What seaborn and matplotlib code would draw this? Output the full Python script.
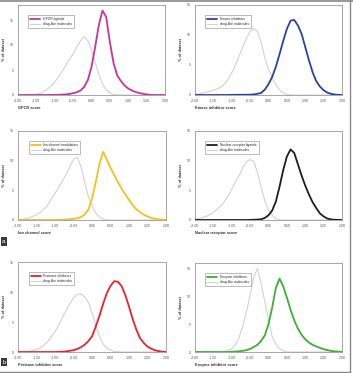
import matplotlib
matplotlib.use("Agg")
import matplotlib.pyplot as plt
import numpy as np
import pandas as pd
import seaborn as sns

# score grid shared by every curve (-2.00 .. 2.00, step 0.1)
SCORE = np.round(np.linspace(-2.0, 2.0, 41), 2)

# % of dataset, one list per curve
GPCR_LIG = [0, 0, 0, 0, 0, 0, 0, 0, 0, 0.02, 0.03, 0.05, 0.08, 0.12, 0.2, 0.35, 0.55, 0.9, 1.6, 3.0,
            5.6, 9.6, 14.0, 16.9, 15.6, 10.6, 6.4, 3.9, 2.8, 1.9, 1.3, 0.9, 0.6, 0.4, 0.25, 0.12, 0.04, 0, 0, 0, 0]
GPCR_DRUG = [0, 0, 0, 0.02, 0.05, 0.15, 0.35, 0.7, 1.2, 1.8, 2.6, 3.6, 4.7, 5.9, 7.1, 8.3, 9.6, 10.8, 11.7, 10.9,
             9.0, 6.5, 4.1, 2.2, 1.0, 0.4, 0.12, 0.03, 0, 0, 0, 0, 0, 0, 0, 0, 0, 0, 0, 0, 0]

KIN_INH = [0, 0, 0, 0, 0, 0, 0, 0, 0, 0, 0.02, 0.03, 0.04, 0.04, 0.05, 0.05, 0.1, 0.2, 0.35, 0.9,
           1.8, 3.0, 4.7, 6.8, 9.0, 11.0, 12.4, 12.5, 11.6, 10.2, 8.0, 5.8, 3.8, 2.3, 1.4, 0.8, 0.4, 0.2, 0.08, 0.03, 0]
KIN_DRUG = [0.1, 0.2, 0.3, 0.45, 0.6, 0.8, 1.0, 1.3, 1.8, 2.6, 3.7, 5.0, 6.5, 8.0, 9.5, 10.6, 11.1, 10.6, 8.8, 6.2,
            4.3, 2.9, 1.7, 0.9, 0.35, 0.1, 0.03, 0, 0, 0, 0, 0, 0, 0, 0, 0, 0, 0, 0, 0, 0]

ION_MOD = [0, 0, 0, 0, 0, 0, 0, 0, 0, 0, 0, 0.03, 0.05, 0.08, 0.12, 0.2, 0.3, 0.5, 0.9, 1.7,
           3.6, 6.3, 9.4, 11.5, 10.2, 8.8, 7.6, 6.4, 5.3, 4.3, 3.4, 2.5, 1.8, 1.3, 0.9, 0.6, 0.35, 0.2, 0.1, 0.04, 0.02]
ION_DRUG = [0.05, 0.1, 0.2, 0.35, 0.6, 0.9, 1.3, 1.8, 2.5, 3.5, 4.5, 5.5, 6.6, 7.7, 9.0, 10.2, 10.6, 9.0, 6.5, 4.0,
            2.4, 1.2, 0.5, 0.15, 0.03, 0, 0, 0, 0, 0, 0, 0, 0, 0, 0, 0, 0, 0, 0, 0, 0]

NR_LIG = [0, 0, 0, 0, 0, 0, 0, 0, 0, 0, 0, 0, 0, 0, 0, 0.02, 0.04, 0.07, 0.12, 0.35,
          0.8, 1.6, 3.1, 5.6, 8.4, 10.7, 11.9, 11.3, 9.4, 7.5, 5.8, 4.3, 3.0, 2.0, 1.1, 0.6, 0.25, 0.1, 0.04, 0.02, 0]
NR_DRUG = [0.15, 0.25, 0.4, 0.6, 0.9, 1.3, 1.8, 2.4, 3.1, 4.1, 5.2, 6.4, 7.5, 8.8, 9.8, 10.2, 9.8, 8.0, 5.6, 3.2,
           1.7, 0.8, 0.25, 0.05, 0, 0, 0, 0, 0, 0, 0, 0, 0, 0, 0, 0, 0, 0, 0, 0, 0]

PROT_INH = [0, 0, 0, 0, 0, 0, 0, 0, 0, 0, 0, 0.02, 0.05, 0.1, 0.2, 0.3, 0.5, 0.8, 1.2, 1.8,
            2.6, 4.2, 6.0, 8.0, 9.8, 11.0, 11.8, 11.7, 11.0, 9.5, 7.6, 5.5, 3.7, 2.3, 1.5, 0.9, 0.55, 0.3, 0.15, 0.05, 0]
PROT_DRUG = [0, 0.02, 0.05, 0.1, 0.25, 0.45, 0.7, 1.1, 1.7, 2.5, 3.4, 4.5, 5.7, 6.9, 8.1, 9.0, 9.6, 9.7, 9.2, 8.3,
             6.6, 4.6, 2.6, 1.3, 0.65, 0.3, 0.1, 0.03, 0, 0, 0, 0, 0, 0, 0, 0, 0, 0, 0, 0, 0]

ENZ_INH = [0, 0, 0, 0, 0, 0, 0, 0, 0, 0, 0.05, 0.08, 0.12, 0.2, 0.35, 0.55, 0.9, 1.3, 2.0, 3.0,
           5.0, 8.0, 11.5, 13.2, 11.8, 9.8, 7.6, 5.7, 4.2, 3.1, 2.3, 1.7, 1.3, 1.0, 0.75, 0.5, 0.35, 0.2, 0.12, 0.06, 0.03]
ENZ_DRUG = [0, 0, 0, 0, 0, 0, 0, 0.03, 0.1, 0.3, 0.6, 1.3, 2.6, 4.6, 7.2, 10.2, 13.5, 15.0, 12.3, 9.0,
            5.8, 2.7, 1.4, 0.6, 0.2, 0.05, 0, 0, 0, 0, 0, 0, 0, 0, 0, 0, 0, 0, 0, 0, 0]

X_TICKS = [-2.0, -1.5, -1.0, -0.5, 0.0, 0.5, 1.0, 1.5, 2.0]

# (legend label, x label, colour, y max, target curve, drug-like curve)
PANELS = [
    ("GPCR ligands", "GPCR score", "#c8349a", 18, GPCR_LIG, GPCR_DRUG),
    ("Kinase inhibitors", "Kinase inhibitor score", "#2b41a6", 15, KIN_INH, KIN_DRUG),
    ("Ion channel modulators", "Ion channel score", "#f1c21c", 15, ION_MOD, ION_DRUG),
    ("Nuclear receptor ligands", "Nuclear receptor score", "#1e1e1e", 15, NR_LIG, NR_DRUG),
    ("Protease inhibitors", "Protease inhibitor score", "#e8222c", 15, PROT_INH, PROT_DRUG),
    ("Enzyme inhibitors", "Enzyme inhibitor score", "#3fae34", 16, ENZ_INH, ENZ_DRUG),
]

# axes boxes in pixels: left, top, right, bottom
BOXES = [(18, 5, 165, 95), (195, 5, 342, 95),
         (18, 131, 166, 220), (195, 131, 342, 220),
         (18, 262, 166, 352), (195, 263, 342, 352)]

W, H = 353, 373
sns.set_style("white")
plt.rcParams["font.family"] = ["Liberation Sans", "DejaVu Sans"]

fig = plt.figure(figsize=(W / 100, H / 100), dpi=100)

for (label, xlabel, color, ymax, target, drug), (l, t, r, b) in zip(PANELS, BOXES):
    ax = fig.add_axes([l / W, 1 - b / H, (r - l) / W, (b - t) / H])
    df = pd.DataFrame({"score": SCORE, "target": target, "drug": drug})
    sns.lineplot(data=df, x="score", y="drug", color="#d2d2d2", lw=0.8, ax=ax,
                 label="drug-like molecules", zorder=2)
    sns.lineplot(data=df, x="score", y="target", color=color, lw=1.3, ax=ax,
                 label=label, zorder=3)
    ax.set_xlim(-2, 2)
    ax.set_ylim(0, ymax)
    ax.set_xticks(X_TICKS)
    ax.set_xticklabels([f"{v:.2f}" for v in X_TICKS])
    ax.set_yticks([0, 5, 10, 15])
    ax.tick_params(labelsize=2.6, length=1.2, width=0.4, pad=1.5, colors="#555555")
    for s in ax.spines.values():
        s.set_color("#999999")
        s.set_linewidth(0.6)
    ax.set_xlabel(xlabel, fontsize=2.8, loc="left", labelpad=2.5, fontweight="bold", color="#333333")
    ax.set_ylabel("% of dataset", fontsize=2.8, labelpad=3, fontweight="bold", color="#333333")
    handles, labels = ax.get_legend_handles_labels()
    ax.legend(handles[::-1], labels[::-1], loc="upper left", bbox_to_anchor=(0.06, 0.91),
              fontsize=2.4, frameon=True, fancybox=False, edgecolor="#888888",
              handlelength=3.0, borderpad=0.6, labelspacing=0.3, framealpha=1)
    ax.get_legend().get_frame().set_linewidth(0.4)

# frame lines of the composite image
fig.add_artist(plt.Line2D([0, 1], [1 - 0.5 / H, 1 - 0.5 / H], color="#888888", lw=1.2))
fig.add_artist(plt.Line2D([1 - 3.5 / W, 1 - 3.5 / W], [0, 1], color="#888888", lw=1.0))
fig.add_artist(plt.Line2D([0, 1 - 3.5 / W], [1.5 / H, 1.5 / H], color="#888888", lw=1.0))

# panel letters
for letter, yc in [("a", 241.5), ("b", 362)]:
    fig.text(4 / W, 1 - yc / H, letter, fontsize=4.5, color="white", ha="center", va="center",
             bbox=dict(boxstyle="square,pad=0.25", fc="#3a3a3a", ec="none"))

fig.savefig("out.png", dpi=100)
